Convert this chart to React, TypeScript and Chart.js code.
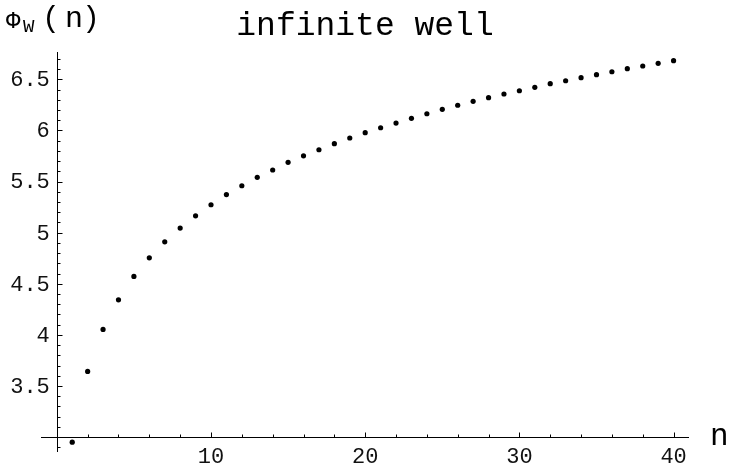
import React, { useEffect, useRef } from "react";
import { Chart, registerables } from "chart.js";

Chart.register(...registerables);

const nValues = [
  1, 2, 3, 4, 5, 6, 7, 8, 9, 10, 11, 12, 13, 14, 15, 16, 17, 18, 19, 20,
  21, 22, 23, 24, 25, 26, 27, 28, 29, 30, 31, 32, 33, 34, 35, 36, 37, 38, 39, 40,
];
const phiValues = [
  2.951, 3.643, 4.054, 4.343, 4.572, 4.754, 4.911, 5.045, 5.165, 5.273,
  5.373, 5.459, 5.541, 5.613, 5.688, 5.752, 5.811, 5.87, 5.926, 5.978,
  6.026, 6.072, 6.118, 6.163, 6.206, 6.246, 6.285, 6.32, 6.356, 6.388,
  6.422, 6.457, 6.486, 6.516, 6.545, 6.574, 6.604, 6.63, 6.656, 6.682,
];
const xTickValues = [10, 20, 30, 40];
const xTickLabels = ["10", "20", "30", "40"];
const yTickValues = [3.5, 4, 4.5, 5, 5.5, 6, 6.5];
const yTickLabels = ["3.5", "4", "4.5", "5", "5.5", "6", "6.5"];
const xMinorStep = 2;
const yMinorStep = 0.1;
const titleText = "infinite well";
const xAxisLabel = "n";
const yAxisLabelMain = "\u03A6";
const yAxisLabelSub = "W";
const yAxisLabelTail = ["(", "n", ")"];
const xCross = 0;
const yCross = 3;

const MONO = '"Liberation Mono", "DejaVu Sans Mono", monospace';

const axesPlugin = {
  id: "mmaAxes",
  afterDraw(chart: any) {
    const ctx = chart.ctx as CanvasRenderingContext2D;
    const xs = chart.scales.x;
    const ys = chart.scales.y;
    const area = chart.chartArea;
    const x0 = xs.getPixelForValue(xCross);
    const y0 = ys.getPixelForValue(yCross);
    ctx.save();
    ctx.strokeStyle = "#000";
    ctx.lineWidth = 1;
    ctx.beginPath();
    ctx.moveTo(area.left, Math.round(y0) + 0.5);
    ctx.lineTo(area.right, Math.round(y0) + 0.5);
    ctx.moveTo(Math.round(x0) + 0.5, area.top);
    ctx.lineTo(Math.round(x0) + 0.5, area.bottom);
    ctx.stroke();

    // x ticks
    ctx.beginPath();
    for (let v = xMinorStep; v <= xs.max; v += xMinorStep) {
      const px = Math.round(xs.getPixelForValue(v)) + 0.5;
      const major = xTickValues.includes(Math.round(v));
      const len = major ? 5 : 3;
      ctx.moveTo(px, Math.round(y0) + 0.5);
      ctx.lineTo(px, Math.round(y0) + 0.5 - len);
    }
    // y ticks
    const start = Math.ceil(ys.min / yMinorStep);
    const end = Math.floor(ys.max / yMinorStep);
    for (let k = start; k <= end; k++) {
      const v = k * yMinorStep;
      if (Math.abs(v - yCross) < 1e-6) continue;
      const py = Math.round(ys.getPixelForValue(v)) + 0.5;
      const major = yTickValues.some((t) => Math.abs(t - v) < 1e-6);
      const len = major ? 5 : 3;
      ctx.moveTo(Math.round(x0) + 0.5, py);
      ctx.lineTo(Math.round(x0) + 0.5 + len, py);
    }
    ctx.stroke();

    ctx.fillStyle = "#111";
    ctx.font = `22px ${MONO}`;
    ctx.textAlign = "center";
    ctx.textBaseline = "top";
    xTickValues.forEach((v, i) => {
      ctx.fillText(xTickLabels[i], xs.getPixelForValue(v), y0 + 9);
    });
    ctx.textAlign = "right";
    ctx.textBaseline = "middle";
    yTickValues.forEach((v, i) => {
      ctx.fillText(yTickLabels[i], x0 - 7, ys.getPixelForValue(v) + 1);
    });

    // title
    ctx.fillStyle = "#000";
    ctx.textAlign = "center";
    ctx.textBaseline = "alphabetic";
    ctx.font = `33px ${MONO}`;
    ctx.fillText(titleText, (area.left + area.right) / 2, 35);

    // x axis label
    ctx.textAlign = "left";
    ctx.font = `31px ${MONO}`;
    ctx.fillText(xAxisLabel, area.right + 21, y0 + 8);

    // y axis label
    ctx.font = `24px ${MONO}`;
    ctx.fillText(yAxisLabelMain, 6, 28);
    ctx.font = `19px ${MONO}`;
    ctx.fillText(yAxisLabelSub, 23, 32);
    ctx.textAlign = "center";
    ctx.font = `30px ${MONO}`;
    const centers = [51, 74, 91];
    yAxisLabelTail.forEach((c, i) => ctx.fillText(c, centers[i], 27));
    ctx.restore();
  },
};

export default function App() {
  const ref = useRef<HTMLCanvasElement>(null);
  useEffect(() => {
    if (!ref.current) return;
    const chart = new Chart(ref.current, {
      type: "scatter",
      data: {
        datasets: [
          {
            data: nValues.map((n, i) => ({ x: n, y: phiValues[i] })),
            backgroundColor: "#000",
            borderColor: "#000",
            borderWidth: 0,
            pointRadius: 2.6,
            clip: false as any,
          },
        ],
      },
      options: {
        animation: false,
        responsive: false,
        devicePixelRatio: 1,
        layout: { padding: { left: 41, right: 41, top: 52, bottom: 16 } },
        plugins: { legend: { display: false }, tooltip: { enabled: false } },
        scales: {
          x: { type: "linear", display: false, min: -1.025, max: 41.0 },
          y: { type: "linear", display: false, min: 2.855, max: 6.767 },
        },
      },
      plugins: [axesPlugin],
    });
    return () => chart.destroy();
  }, []);
  return (
    <div style={{ position: "absolute", left: 0, top: 0, width: 730, height: 468, background: "#fff" }}>
      <canvas ref={ref} width={730} height={468} />
    </div>
  );
}
